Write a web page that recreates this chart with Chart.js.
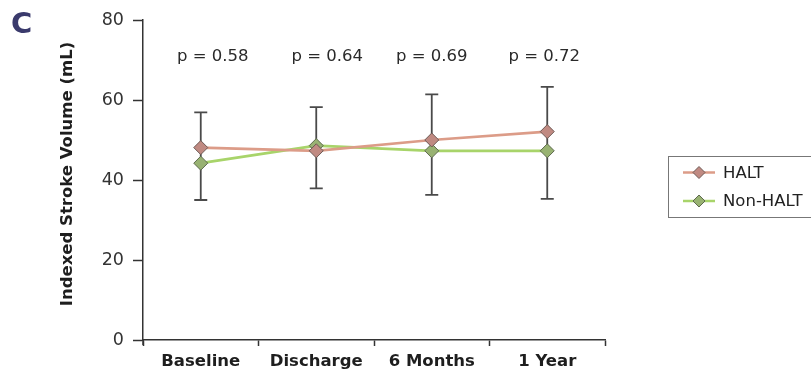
<!DOCTYPE html>
<html>
<head>
<meta charset="utf-8">
<script src="https://cdn.jsdelivr.net/npm/chart.js@4"></script>
<style>
  html, body { margin: 0; padding: 0; background: #fff; }
  #wrap { position: relative; width: 811px; height: 371px; }
</style>
</head>
<body>
<div id="wrap"><canvas id="c" width="811" height="371"></canvas></div>
<script>
// Time points and group means (indexed stroke volume, mL)
const categories = ['Baseline', 'Discharge', '6 Months', '1 Year'];
const haltValues = [48.1, 47.3, 50.0, 52.1];
const nonHaltValues = [44.2, 48.6, 47.3, 47.3];
// Error bar extent at each time point
const errHigh = [56.9, 58.2, 61.4, 63.3];
const errLow = [35.0, 37.9, 36.3, 35.3];
// Between-group p values
const pLabels = ['p = 0.58', 'p = 0.64', 'p = 0.69', 'p = 0.72'];
const yTicks = [0, 20, 40, 60, 80];
const yTitle = 'Indexed Stroke Volume (mL)';

const FONT = '"DejaVu Sans", Verdana, sans-serif';
// small horizontal nudges for the p value labels
const pNudge = [12, 11, 0, -3];

const errorBars = {
  id: 'errorBars',
  beforeDatasetsDraw(chart) {
    const { ctx, scales: { x, y } } = chart;
    ctx.save();
    ctx.strokeStyle = '#4a4a4a';
    ctx.lineWidth = 1.8;
    categories.forEach((c, i) => {
      const px = x.getPixelForValue(i);
      const top = y.getPixelForValue(errHigh[i]);
      const bot = y.getPixelForValue(errLow[i]);
      ctx.beginPath();
      ctx.moveTo(px, top); ctx.lineTo(px, bot);
      ctx.moveTo(px - 6.5, top); ctx.lineTo(px + 6.5, top);
      ctx.moveTo(px - 6.5, bot); ctx.lineTo(px + 6.5, bot);
      ctx.stroke();
    });
    ctx.restore();
  }
};

const annotations = {
  id: 'annotations',
  afterDraw(chart) {
    const { ctx, scales: { x, y } } = chart;
    ctx.save();
    // y axis runs a little past the origin
    ctx.strokeStyle = '#333';
    ctx.lineWidth = 1.5;
    ctx.beginPath();
    ctx.moveTo(x.left, y.bottom);
    ctx.lineTo(x.left, y.bottom + 5);
    ctx.stroke();
    // p values above each time point
    ctx.fillStyle = '#2a2a2a';
    ctx.font = '16.5px ' + FONT;
    ctx.textAlign = 'center';
    ctx.textBaseline = 'middle';
    pLabels.forEach((t, i) => ctx.fillText(t, x.getPixelForValue(i) + pNudge[i], 57));
    // y axis title
    ctx.save();
    ctx.translate(68, 174);
    ctx.rotate(-Math.PI / 2);
    ctx.font = 'bold 16.5px ' + FONT;
    ctx.fillStyle = '#1e1e1e';
    ctx.fillText(yTitle, 0, 0);
    ctx.restore();
    // panel letter
    ctx.fillStyle = '#3a3a6c';
    ctx.font = 'bold 29px ' + FONT;
    ctx.textAlign = 'left';
    ctx.fillText('C', 11, 25);
    // legend
    ctx.strokeStyle = '#777';
    ctx.lineWidth = 1;
    ctx.strokeRect(668.5, 156.5, 150, 61);
    const rows = [172.5, 201];
    chart.data.datasets.forEach((ds, i) => {
      const yy = rows[i];
      ctx.strokeStyle = ds.borderColor;
      ctx.lineWidth = 2.5;
      ctx.beginPath(); ctx.moveTo(683, yy); ctx.lineTo(715, yy); ctx.stroke();
      ctx.beginPath();
      ctx.moveTo(699, yy - 6); ctx.lineTo(705, yy); ctx.lineTo(699, yy + 6); ctx.lineTo(693, yy);
      ctx.closePath();
      ctx.fillStyle = ds.pointBackgroundColor;
      ctx.fill();
      ctx.strokeStyle = ds.pointBorderColor;
      ctx.lineWidth = 1;
      ctx.stroke();
      ctx.fillStyle = '#222';
      ctx.font = '16.5px ' + FONT;
      ctx.textAlign = 'left';
      ctx.fillText(ds.label, 723, yy + 1);
    });
    ctx.restore();
  }
};

new Chart(document.getElementById('c'), {
  type: 'line',
  data: {
    labels: categories,
    datasets: [
      {
        label: 'HALT',
        data: haltValues,
        borderColor: '#dc9c88',
        borderWidth: 2.7,
        pointStyle: 'rectRot',
        pointRadius: 7,
        pointBackgroundColor: '#c08a82',
        pointBorderColor: '#6e5a55',
        pointBorderWidth: 1,
        tension: 0
      },
      {
        label: 'Non-HALT',
        data: nonHaltValues,
        borderColor: '#a8d46a',
        borderWidth: 2.7,
        pointStyle: 'rectRot',
        pointRadius: 7,
        pointBackgroundColor: '#98b272',
        pointBorderColor: '#5e6a4e',
        pointBorderWidth: 1,
        tension: 0
      }
    ]
  },
  options: {
    responsive: false,
    animation: false,
    layout: { padding: { left: 0, right: 206, top: 20, bottom: 0 } },
    plugins: { legend: { display: false }, tooltip: { enabled: false } },
    scales: {
      x: {
        offset: true,
        grid: {
          offset: true,
          drawOnChartArea: false,
          drawTicks: true,
          tickLength: 6,
          tickWidth: 1.5,
          tickColor: '#333'
        },
        border: { color: '#333', width: 1.5 },
        ticks: {
          color: '#1e1e1e',
          padding: 6,
          font: { family: FONT, size: 16.5, weight: 'bold' },
          maxRotation: 0
        },
        afterFit(scale) { scale.height = 31; }
      },
      y: {
        min: 0,
        max: 80,
        afterBuildTicks(scale) { scale.ticks = yTicks.map(v => ({ value: v })); },
        grid: {
          drawOnChartArea: false,
          drawTicks: true,
          tickLength: 10,
          tickWidth: 1.5,
          tickColor: '#333'
        },
        border: { color: '#333', width: 1.5 },
        ticks: {
          color: '#333',
          padding: 9,
          font: { family: FONT, size: 17.5 }
        },
        afterFit(scale) { scale.width = 143; }
      }
    }
  },
  plugins: [errorBars, annotations]
});
</script>
</body>
</html>
